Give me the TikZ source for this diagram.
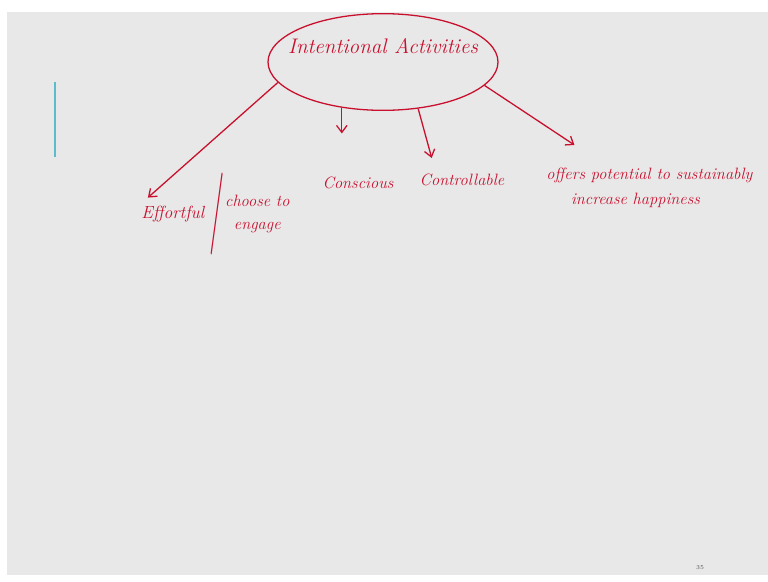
\documentclass[tikz,border=0pt]{standalone}
\usepackage{xcolor}
\usepackage{graphicx}
\usepackage{tikz}
\usetikzlibrary{positioning, arrows.meta, shapes.geometric, calc}
\definecolor{ink}{HTML}{C8102E}
\definecolor{slide}{HTML}{E8E8E8}
\definecolor{cursor}{HTML}{5BBCCB}
\newcommand{\bigslash}{{\upshape\scalebox{1.9}[5]{/}}}

\begin{document}
\begin{tikzpicture}[
  x=0.03cm, y=-0.03cm,
  every node/.style={font=\fontsize{14}{17}\selectfont\itshape, text=ink,
                     align=left, inner sep=1pt},
  bubble/.style={ellipse, draw=ink, line width=1.1pt,
                 minimum width=6.9cm, minimum height=2.9cm},
  arr/.style={-{Straight Barb[length=6pt, width=9pt]}, ink, line width=1.1pt}
]
\useasboundingbox (0,0) rectangle (768,581);
\fill[slide] (7,12) rectangle (768,575);
\draw[cursor, line width=1.5pt] (55,82) -- (55,157);

\node[bubble] (act) at (383,62) {};
\node[font=\fontsize{18}{21}\selectfont\itshape] (title) at (383,46) {Intentional Activities};

\node[anchor=west, font=\fontsize{15}{18}\selectfont\itshape] (eff) at (140,214) {Effortful};
\node[right=2pt of eff] (slash) {\bigslash};
\node[right=-2pt of slash, align=center] (chs) {choose to\\[2pt]engage};
\node (cons) at (358,183) {Conscious};
\node (ctrl) at (462,180) {Controllable};
\node[anchor=north west] (off) at (545,167)
  {offers potential to sustainably\\[4pt]\hspace{1.5em}increase happiness};

\draw[arr, shorten >=9pt]  (act.191) -- (eff.north west);
\draw[arr, shorten >=36pt] (act.228) -- (act.228 |- cons.north);
\draw[arr, shorten >=13pt] (act.307) -- ($(ctrl.north west)!0.2!(ctrl.north east)$);
\draw[arr, shorten >=34pt] (act.347) -- ($(off.north west)!0.3!(off.north east)$);

\node[font=\fontsize{5}{6}\selectfont, text=black!70] (pg) at (700,568) {35};
\end{tikzpicture}
\end{document}
